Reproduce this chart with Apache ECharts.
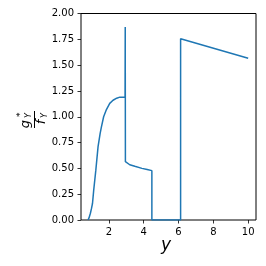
<!DOCTYPE html>
<html>
<head>
<meta charset="utf-8">
<script src="https://cdn.jsdelivr.net/npm/echarts@6/dist/echarts.min.js"></script>
<style>html,body{margin:0;padding:0;background:#fff}#c{width:266px;height:266px}</style>
</head>
<body>
<div id="c"></div>
<script>
const xValues = [0.80, 0.86, 0.94, 1.00, 1.06, 1.13, 1.25, 1.38, 1.50, 1.57, 1.70, 1.86, 2.05, 2.24, 2.45, 2.63, 2.80, 2.93, 2.94, 2.95, 3.20, 3.49, 3.90, 4.20, 4.47, 4.47, 6.12, 6.12, 10.0];
const yValues = [0.00, 0.02, 0.065, 0.11, 0.16, 0.29, 0.48, 0.71, 0.84, 0.90, 1.00, 1.07, 1.13, 1.16, 1.18, 1.19, 1.19, 1.19, 1.87, 0.565, 0.535, 0.52, 0.50, 0.49, 0.478, 0.00, 0.00, 1.755, 1.567];
const xTicks = [2, 4, 6, 8, 10];
const yTicks = [0, 0.25, 0.5, 0.75, 1.0, 1.25, 1.5, 1.75, 2.0];

const chart = echarts.init(document.getElementById('c'), null, {renderer: 'canvas'});
const font = 'DejaVu Sans';
const data = xValues.map((x, i) => [x, yValues[i]]);
chart.setOption({
  animation: false,
  grid: {left: 81, right: 10, top: 13.5, bottom: 46, show: true, borderColor: '#000', borderWidth: 1, backgroundColor: 'transparent'},
  xAxis: {
    type: 'value', min: 0.4, max: 10.45,
    axisLine: {show: false},
    splitLine: {show: false},
    axisTick: {show: true, length: 3.5, customValues: xTicks, lineStyle: {color: '#000', width: 0.8}},
    axisLabel: {customValues: xTicks, margin: 7, fontFamily: font, fontSize: 10, color: '#000', formatter: v => String(v)}
  },
  yAxis: {
    type: 'value', min: 0, max: 2, interval: 0.25,
    axisLine: {show: false},
    splitLine: {show: false},
    axisTick: {show: true, length: 3.5, lineStyle: {color: '#000', width: 0.8}},
    axisLabel: {margin: 7, fontFamily: font, fontSize: 10, color: '#000', formatter: v => v.toFixed(2)}
  },
  series: [{
    type: 'line', data: data, showSymbol: false, symbol: 'none',
    lineStyle: {color: '#1f77b4', width: 1.5}, z: 1
  }],
  graphic: [
    {type: 'text', left: 161, top: 237, style: {text: 'y', font: 'italic 17px "DejaVu Sans"', fill: '#000'}},
    {type: 'group', x: 33.5, y: 119, rotation: Math.PI / 2, children: [
      {type: 'text', x: -5, y: -1, style: {text: 'g', font: 'italic 13px "DejaVu Sans"', fill: '#000', textAlign: 'center', textVerticalAlign: 'bottom'}},
      {type: 'text', x: 2, y: -8, style: {text: '*', font: '9px "DejaVu Sans"', fill: '#000', textAlign: 'left', textVerticalAlign: 'bottom'}},
      {type: 'text', x: 1, y: -1, style: {text: 'Y', font: 'italic 8px "DejaVu Sans"', fill: '#000', textAlign: 'left', textVerticalAlign: 'bottom'}},
      {type: 'line', shape: {x1: -9, y1: 1, x2: 8, y2: 1}, style: {stroke: '#000', lineWidth: 1}},
      {type: 'text', x: -3, y: 2, style: {text: 'f', font: 'italic 13px "DejaVu Sans"', fill: '#000', textAlign: 'center', textVerticalAlign: 'top'}},
      {type: 'text', x: 1, y: 7, style: {text: 'Y', font: 'italic 8px "DejaVu Sans"', fill: '#000', textAlign: 'left', textVerticalAlign: 'top'}}
    ]}
  ]
});
</script>
</body>
</html>
